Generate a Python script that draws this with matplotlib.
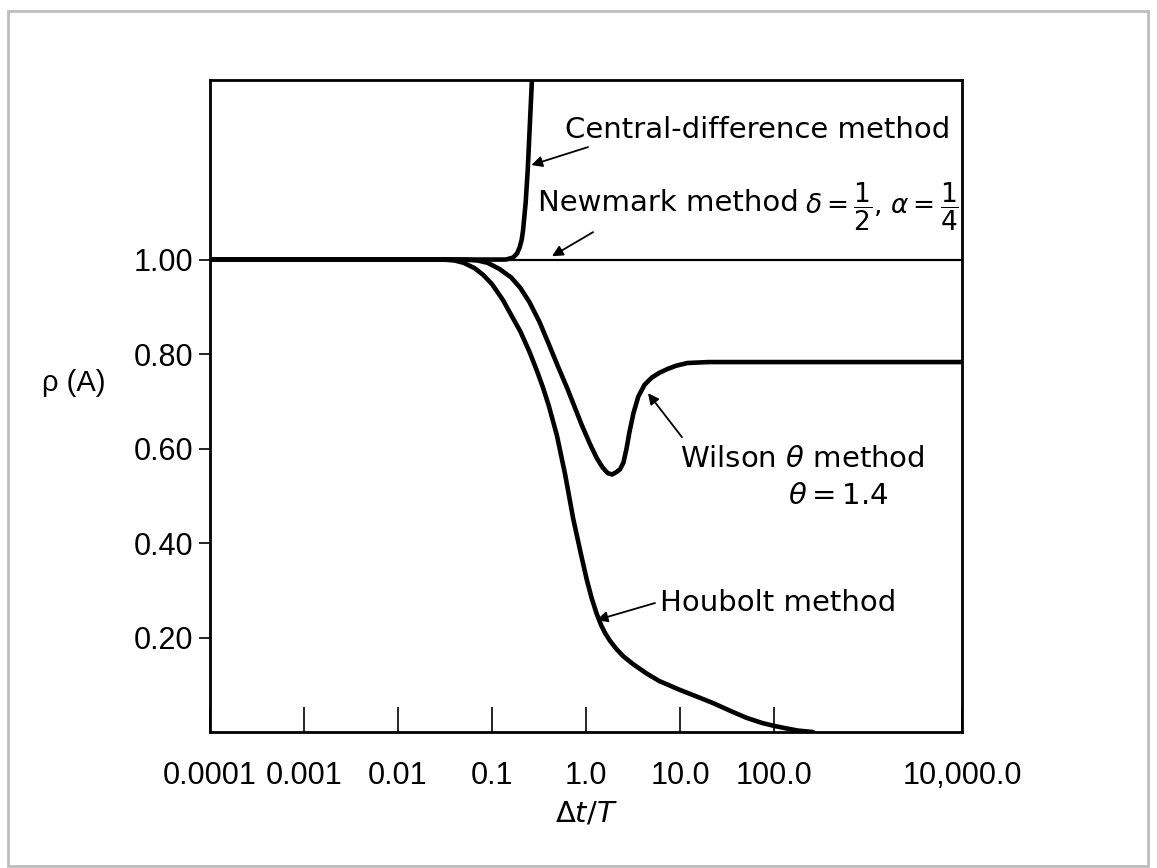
import numpy as np
import matplotlib
matplotlib.use('Agg')
import matplotlib.pyplot as plt
from matplotlib.patches import Rectangle

# values (x = dt/T, y = rho(A))
central_x = [0.0001, 0.01, 0.1, 0.14, 0.167, 0.185, 0.197, 0.207, 0.214, 0.228, 0.24, 0.254, 0.266]
central_y = [1.0, 1.0, 1.0, 1.0, 1.004, 1.013, 1.026, 1.042, 1.062, 1.12, 1.19, 1.295, 1.38]

newmark_x = [0.0001, 10000.0]
newmark_y = [1.0, 1.0]

wilson_x = [0.0001, 0.01, 0.05, 0.07, 0.09, 0.12, 0.16, 0.2, 0.25, 0.32, 0.4, 0.5, 0.63, 0.75,
            0.9, 1.1, 1.3, 1.5, 1.7, 1.9, 2.1, 2.3, 2.5, 2.7, 2.9, 3.2, 3.6, 4.2, 5.0, 6.0,
            7.3, 9.0, 12.0, 20.0, 10000.0]
wilson_y = [1.0, 1.0, 1.0, 0.998, 0.993, 0.98, 0.962, 0.94, 0.91, 0.868, 0.822, 0.775, 0.728, 0.69,
            0.65, 0.61, 0.58, 0.56, 0.548, 0.545, 0.55, 0.556, 0.57, 0.6, 0.635, 0.675, 0.71, 0.735, 0.75, 0.76,
            0.768, 0.775, 0.781, 0.783, 0.783]

houbolt_x = [0.0001, 0.01, 0.03, 0.04, 0.05, 0.065, 0.08, 0.1, 0.13, 0.167, 0.2, 0.25, 0.3, 0.35,
             0.4, 0.49, 0.6, 0.73, 0.88, 1.02, 1.15, 1.3, 1.45, 1.6, 1.8, 2.1, 2.5, 3.2, 4.4, 6.0,
             10.0, 16.0, 22.6, 35.0, 51.0, 75.0, 100.0, 140.0, 180.0, 260.0]
houbolt_y = [1.0, 1.0, 1.0, 0.998, 0.993, 0.982, 0.968, 0.948, 0.915, 0.876, 0.848, 0.805, 0.765, 0.728,
             0.692, 0.628, 0.545, 0.452, 0.378, 0.322, 0.283, 0.25, 0.226, 0.209, 0.193, 0.176, 0.16, 0.143, 0.124, 0.108,
             0.089, 0.073, 0.061, 0.044, 0.030, 0.019, 0.013, 0.007, 0.003, 0.0]

xticks = [0.0001, 0.001, 0.01, 0.1, 1.0, 10.0, 100.0, 10000.0]
xticklabels = ['0.0001', '0.001', '0.01', '0.1', '1.0', '10.0', '100.0', '10,000.0']
yticks = [0.2, 0.4, 0.6, 0.8, 1.0]
yticklabels = ['0.20', '0.40', '0.60', '0.80', '1.00']

plt.rcParams['font.family'] = ['DejaVu Sans']
plt.rcParams['mathtext.fontset'] = 'dejavusans'
fs = 21
num_font = 'Liberation Sans'

fig = plt.figure(figsize=(11.57, 8.68), dpi=100)
ax = fig.add_axes([210/1157, 136/868, 752/1157, 652/868])

ax.plot(newmark_x, newmark_y, color='black', lw=1.6)
curve = dict(color='black', lw=3.3, solid_joinstyle='round', solid_capstyle='round')
ax.plot(central_x, central_y, **curve)
ax.plot(wilson_x, wilson_y, **curve)
ax.plot(houbolt_x, houbolt_y, **curve)

ax.set_xscale('log')
ax.set_xlim(0.0001, 10000)
ax.set_ylim(0, 1.38)
ax.set_xticks(xticks)
ax.set_xticklabels(xticklabels)
ax.xaxis.set_minor_locator(matplotlib.ticker.NullLocator())
ax.set_yticks(yticks)
ax.set_yticklabels(yticklabels)
ax.tick_params(axis='x', direction='in', length=18, width=1.2, pad=21, labelsize=22,
               labelfontfamily=num_font)
ax.tick_params(axis='y', direction='out', length=8, width=1.2, pad=4, labelsize=22,
               labelfontfamily=num_font)
for s in ax.spines.values():
    s.set_linewidth(2)

ax.set_xlabel(r'$\Delta t/T$', fontsize=fs, labelpad=6)
fig.text(106/1157, 1 - 383/868, 'ρ (A)', fontsize=21, family=num_font, ha='right', va='center')

arrow = dict(arrowstyle='-|>', color='black', lw=1.3, mutation_scale=16, shrinkA=0, shrinkB=0)
ax.annotate('', xy=(0.262, 1.2), xytext=(1.05, 1.238), arrowprops=arrow)
ax.text(0.6, 1.274, 'Central-difference method', fontsize=fs, va='center', ha='left')

ax.annotate('', xy=(0.435, 1.007), xytext=(1.19, 1.058), arrowprops=arrow)
newmark_txt = ax.text(0.305, 1.12, 'Newmark method', fontsize=fs, va='center', ha='left')
ax.annotate(r'$\delta=\dfrac{1}{2}$, $\alpha=\dfrac{1}{4}$', xy=(1, 0.5), xycoords=newmark_txt,
            xytext=(5, -3), textcoords='offset points', fontsize=19, va='center', ha='left')

ax.annotate('', xy=(4.57, 0.717), xytext=(10.5, 0.624), arrowprops=arrow)
ax.text(10.0, 0.578, r'Wilson $\theta$ method', fontsize=fs, va='center', ha='left')
ax.text(140.0, 0.5, r'$\theta = 1.4$', fontsize=fs, va='center', ha='left')
ax.annotate('', xy=(1.3, 0.237), xytext=(5.42, 0.273), arrowprops=arrow)
ax.text(6.12, 0.273, 'Houbolt method', fontsize=fs, va='center', ha='left')

fig.patches.append(Rectangle((8/1157, 2/868), 1140/1157, 855/868, transform=fig.transFigure,
                             fill=False, edgecolor='#bdbdbd', lw=2))

fig.savefig('out.png', dpi=100)
